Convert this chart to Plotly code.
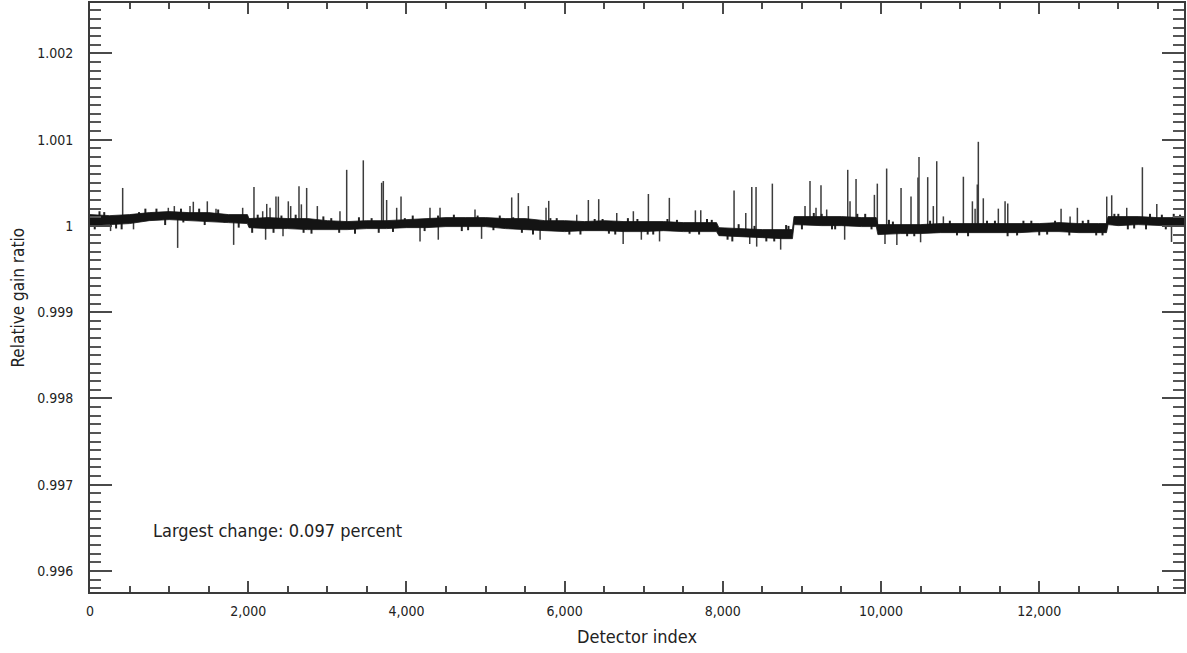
import numpy as np
import plotly.graph_objects as go

# ---- data ----
band_x = [0, 250, 500, 750, 1000, 1250, 1500, 1750, 1990, 2010, 2250, 2500, 2750, 3000, 3250,
          3500, 3750, 4000, 4250, 4500, 4750, 5000, 5250, 5500, 5750, 6000, 6250, 6500, 6750,
          7000, 7250, 7500, 7750, 7920, 7950, 8250, 8500, 8750, 8880, 8900, 9250, 9500, 9750,
          9940, 9960, 10250, 10500, 10750, 11000, 11250, 11500, 11750, 12000, 12250, 12500,
          12750, 12850, 12870, 13000, 13250, 13500, 13830]
band_hi = [1.000131, 1.000119, 1.000131, 1.000154, 1.000166, 1.000154, 1.000154, 1.000131, 1.000131,
           1.000085, 1.000096, 1.000085, 1.000085, 1.000061, 1.000050, 1.000061, 1.000061, 1.000073,
           1.000085, 1.000096, 1.000096, 1.000096, 1.000085, 1.000085, 1.000061, 1.000061, 1.000050,
           1.000061, 1.000050, 1.000050, 1.000050, 1.000038, 1.000038, 1.000038, 0.999980, 0.999969,
           0.999957, 0.999957, 0.999957, 1.000108, 1.000108, 1.000108, 1.000096, 1.000096, 1.000015,
           1.000015, 1.000015, 1.000027, 1.000027, 1.000027, 1.000027, 1.000027, 1.000027, 1.000038,
           1.000027, 1.000027, 1.000027, 1.000108, 1.000108, 1.000108, 1.000096, 1.000096]
band_lo = [1.000003, 1.000015, 1.000027, 1.000061, 1.000073, 1.000061, 1.000050, 1.000038, 1.000027,
           0.999980, 0.999969, 0.999969, 0.999957, 0.999957, 0.999957, 0.999969, 0.999969, 0.999980,
           0.999980, 0.999992, 0.999992, 0.999992, 0.999969, 0.999957, 0.999945, 0.999934, 0.999945,
           0.999945, 0.999934, 0.999934, 0.999945, 0.999934, 0.999934, 0.999934, 0.999887, 0.999876,
           0.999864, 0.999852, 0.999852, 1.000015, 1.000003, 1.000003, 0.999992, 0.999992, 0.999899,
           0.999911, 0.999911, 0.999922, 0.999922, 0.999922, 0.999922, 0.999922, 0.999934, 0.999934,
           0.999922, 0.999922, 0.999922, 1.000015, 1.000003, 1.000015, 1.000003, 0.999992]

# large upward spikes
spike_x = [413, 990, 1066, 1264, 1306, 1483, 1593, 1930, 2073, 2183, 2234, 2276, 2351, 2381, 2507,
           2537, 2642, 2672, 2739, 2874, 3160, 3245, 3455, 3687, 3708, 3750, 3877, 3932, 4298, 4425,
           4867, 5331, 5415, 5542, 5765, 5799, 6153, 6300, 6431, 6659, 6869, 7059, 7324, 7653, 7721,
           8142, 8290, 8366, 8420, 8626, 9039, 9102, 9178, 9241, 9313, 9579, 9608, 9684, 9916, 9953,
           10071, 10253, 10379, 10467, 10480, 10590, 10661, 10704, 10788, 11041, 11155, 11189, 11217,
           11230, 11293, 11483, 11568, 11602, 12276, 12390, 12482, 12853, 12916, 13106, 13304, 13486]
spike_y = [1.00044, 1.00021, 1.00023, 1.00023, 1.00028, 1.000285, 1.0002, 1.00021, 1.00045, 1.00017,
           1.000255, 1.00021, 1.00034, 1.00034, 1.000285, 1.00023, 1.00046, 1.00025, 1.00044, 1.00023,
           1.00017, 1.00065, 1.00076, 1.0005, 1.00052, 1.0003, 1.00021, 1.00034, 1.00021, 1.00021,
           1.00019, 1.00033, 1.00038, 1.00023, 1.00021, 1.00029, 1.00013, 1.0003, 1.00031, 1.00015,
           1.00017, 1.00037, 1.000325, 1.00018, 1.00018, 1.00041, 1.00015, 1.00045, 1.00045, 1.00049,
           1.00023, 1.00052, 1.00021, 1.00047, 1.00019, 1.00065, 1.000285, 1.000545, 1.00036, 1.00049,
           1.000665, 1.00044, 1.00034, 1.00056, 1.0008, 1.000565, 1.00023, 1.00075, 1.00011, 1.00057,
           1.000285, 1.0002, 1.00048, 1.000975, 1.00032, 1.0002, 1.000285, 1.00026, 1.0002, 1.00011,
           1.00021, 1.00034, 1.000355, 1.00021, 1.00068, 1.000255]

# downward spikes
dip_x = [260, 550, 1108, 1816, 2220, 2440, 4172, 4403, 4950, 5690, 6740, 6970, 7200, 8340, 8428,
         8731, 9540, 10050, 10200, 10500, 13672]
dip_y = [0.99994, 0.99996, 0.999745, 0.99978, 0.99984, 0.99988, 0.99982, 0.99984, 0.99985, 0.99984,
         0.99979, 0.99984, 0.99982, 0.99979, 0.99976, 0.999725, 0.99984, 0.99979, 0.99978, 0.99981,
         0.999814]

# small excursions just beyond the dark band (ragged edge)
small_x = [60, 120, 180, 330, 400, 620, 700, 840, 950, 1150, 1180, 1380, 1450, 1620, 1700, 1880,
           2050, 2120, 2320, 2420, 2600, 2700, 2800, 2950, 3050, 3150, 3350, 3400, 3560, 3650,
           3830, 3980, 4080, 4230, 4400, 4600, 4700, 4780, 4900, 5100, 5180, 5350, 5460, 5600,
           5820, 5900, 6060, 6200, 6380, 6480, 6560, 6640, 6800, 6920, 7050, 7120, 7300, 7420,
           7580, 7700, 7800, 7860, 8060, 8120, 8200, 8400, 8550, 8650, 8800, 8830, 9000, 9150,
           9250, 9380, 9420, 9700, 9800, 9880, 10100, 10150, 10330, 10420, 10620, 10870, 10960,
           11100, 11340, 11440, 11600, 11720, 11800, 11900, 12000, 12100, 12200, 12380, 12550,
           12620, 12720, 12800, 12950, 13000, 13120, 13200, 13350, 13400, 13550, 13600, 13700,
           13780]
small_y = [0.99996, 1.00017, 1.00016, 0.99997, 0.99996, 1.00016, 1.0002, 1.0002, 1.00001, 1.0002,
           1.00004, 1.0002, 1.00001, 1.00019, 1.00004, 0.99998, 0.99992, 1.00013, 0.99992, 1.00012,
           1.00013, 0.99992, 0.99991, 1.00011, 1.00009, 0.99992, 0.99991, 1.0001, 1.00009, 0.99992,
           0.99993, 1.00009, 1.00012, 0.99994, 1.00012, 1.00013, 0.99994, 0.99995, 1.00012, 0.99995,
           1.00012, 1.0001, 0.99992, 0.9999, 1.00009, 1.00009, 0.9999, 0.9999, 1.00008, 1.00008,
           0.99991, 0.9999, 1.00009, 1.00008, 0.9999, 0.9999, 1.00008, 1.00007, 0.99991, 0.9999,
           1.00008, 1.00007, 0.99984, 0.99982, 1.00002, 1.0, 0.99982, 0.99982, 1.00001, 1.0,
           0.99996, 1.00015, 1.00014, 0.99996, 0.99996, 1.00014, 1.00014, 0.99996, 1.00007,
           1.00005, 0.99988, 0.99988, 1.00006, 1.00006, 0.99989, 0.99988, 1.00006, 1.00006, 0.99988,
           0.99989, 1.00006, 1.00006, 0.99989, 0.9999, 1.00006, 0.99989, 1.00006, 1.00007, 0.99989,
           0.99989, 1.00014, 1.00014, 0.99996, 0.99997, 0.99996, 1.00014, 1.00013, 0.99996, 1.00014,
           1.00013]

y_tickvals = [0.996, 0.997, 0.998, 0.999, 1.0, 1.001, 1.002]
y_ticktext = ["0.996", "0.997", "0.998", "0.999", "1", "1.001", "1.002"]
x_range = [0, 13830]
y_range = [0.995756, 1.002584]

FONT = "Liberation Sans Narrow, DejaVu Sans Condensed, Arial Narrow, sans-serif"
TXT = "#222222"
AXC = "#3a3a3a"
TKC = "#4a4a4a"

# ---- build traces ----
bx = np.array(band_x, dtype=float)
bhi = np.array(band_hi)
blo = np.array(band_lo)
mid = (bhi + blo) / 2

poly_x = list(bx) + list(bx[::-1])
poly_y = list(bhi) + list(blo[::-1])


def segs(xs, ys):
    ox, oy = [], []
    for d, v in zip(xs, ys):
        base = float(np.interp(d, bx, mid))
        ox += [d, d, None]
        oy += [base, v, None]
    return ox, oy


fig = go.Figure()
sx, sy = segs(spike_x + dip_x, spike_y + dip_y)
fig.add_trace(go.Scatter(x=sx, y=sy, mode="lines",
                         line=dict(color="#3c3c3c", width=1.5), hoverinfo="skip",
                         showlegend=False))
tx, ty = segs(small_x, small_y)
fig.add_trace(go.Scatter(x=tx, y=ty, mode="lines",
                         line=dict(color="#222222", width=2), hoverinfo="skip",
                         showlegend=False))
fig.add_trace(go.Scatter(x=poly_x, y=poly_y, mode="lines", fill="toself",
                         fillcolor="#141414", line=dict(color="#141414", width=0.8),
                         hoverinfo="skip", showlegend=False))
# invisible trace to carry the mirrored (top/right) axes
fig.add_trace(go.Scatter(x=[None], y=[None], xaxis="x2", yaxis="y2", mode="markers",
                         showlegend=False, hoverinfo="skip"))

fig.update_layout(
    width=1187, height=653,
    margin=dict(l=90, r=3, t=3, b=61),
    paper_bgcolor="white", plot_bgcolor="white",
    font=dict(family=FONT, color=TXT, size=14),
    showlegend=False,
)

xcommon = dict(range=x_range, showgrid=False, zeroline=False,
               showline=True, linecolor=AXC, linewidth=2,
               ticks="inside", ticklen=11, tickwidth=2, tickcolor=TKC,
               dtick=2000, tick0=0,
               minor=dict(dtick=500, tick0=0, ticks="inside", ticklen=6, tickwidth=2,
                          tickcolor=TKC, showgrid=False))
ycommon = dict(range=y_range, showgrid=False, zeroline=False,
               showline=True, linecolor=AXC, linewidth=2,
               ticks="inside", ticklen=22, tickwidth=2, tickcolor=TKC,
               tickvals=y_tickvals,
               minor=dict(dtick=0.0001, tick0=0.996, ticks="inside", ticklen=11, tickwidth=2,
                          tickcolor="#555555", showgrid=False))

fig.update_layout(
    xaxis=dict(**xcommon, tickformat=",d",
               tickfont=dict(family=FONT, size=14, color=TXT), ticklabelstandoff=5),
    yaxis=dict(**ycommon, ticktext=y_ticktext,
               tickfont=dict(family=FONT, size=14, color=TXT), ticklabelstandoff=12),
    xaxis2=dict(**xcommon, overlaying="x", side="top", anchor="y2", showticklabels=False),
    yaxis2=dict(**ycommon, overlaying="y", side="right", anchor="x2", showticklabels=False),
)

fig.add_annotation(text="Detector index", xref="paper", yref="paper", x=0.5, y=0,
                   yshift=-44, xanchor="center", yanchor="middle", showarrow=False,
                   font=dict(family=FONT, size=18, color=TXT))
fig.add_annotation(text="Relative gain ratio", xref="paper", yref="paper", x=0, y=0.5,
                   xshift=-73, xanchor="center", yanchor="middle", textangle=-90,
                   showarrow=False, font=dict(family=FONT, size=17, color=TXT))
fig.add_annotation(text="Largest change: 0.097 percent", xref="paper", yref="paper",
                   x=0.1718, y=0.1036, xanchor="center", yanchor="middle", showarrow=False,
                   font=dict(family=FONT, size=18, color=TXT))

fig.write_html("out.html", config={"displayModeBar": False},
               post_script="document.body.style.margin='0px';")
